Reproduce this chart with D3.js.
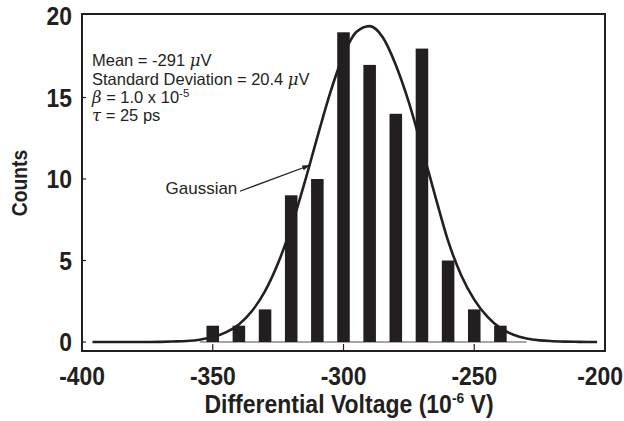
<!DOCTYPE html>
<meta charset="utf-8">
<style>
  body {
    margin: 0;
    background: #fff;
    overflow: hidden;
  }
  text {
    font-family: "Liberation Sans", Arial, sans-serif;
    fill: #231f20;
  }
  .tick-label, .axis-title {
    font-weight: bold;
  }
  .greek {
    font-family: "DejaVu Serif", "Liberation Serif", serif;
    font-style: italic;
  }
</style>
<body>
</body>
<script src="https://cdn.jsdelivr.net/npm/d3@7"></script>
<script>

var width = 624,
    height = 421;

var ink = "#231f20";

// histogram bins (uV) and counts
var bins = [-350, -340, -330, -320, -310, -300, -290, -280, -270, -260, -250, -240];
var counts = [1, 1, 2, 9, 10, 19, 17, 14, 18, 5, 2, 1];

// fitted curve
var fitX = [-396, -390, -385, -380, -375, -370, -365, -360, -355, -350, -345, -340, -335, -330,
            -325, -320, -315, -310, -305, -300, -295, -290, -285, -280, -275, -270, -265, -260,
            -255, -250, -245, -240, -235, -230, -225, -220, -215, -210, -203];
var fitY = [0, 0, 0, 0, 0, 0.01, 0.03, 0.06, 0.14, 0.3, 0.59, 1.08, 1.9, 3.12,
            4.84, 7.06, 9.71, 12.57, 15.33, 17.6, 19.03, 19.38, 18.7, 17.0, 14.7, 11.9, 9.0, 6.2,
            4.1, 2.6, 1.55, 0.85, 0.45, 0.22, 0.1, 0.05, 0.02, 0.01, 0];

var xTicks = [-400, -350, -300, -250, -200];
var yTicks = [0, 5, 10, 15, 20];

var frame = {left: 82, right: 605, top: 14, bottom: 351};

var x = d3.scaleLinear().domain([-400, -200]).range([frame.left, frame.right]);
var y = d3.scaleLinear().domain([0, 20]).range([342, 16]);

var svg = d3.select("body").append("svg")
    .attr("width", width)
    .attr("height", height);

// gray zero line under the bars
svg.append("line")
    .attr("x1", x(-355)).attr("x2", x(-230))
    .attr("y1", y(0)).attr("y2", y(0))
    .style("stroke", "#8a8a8a")
    .style("stroke-width", 1.5);

// bars
svg.append("g").selectAll("rect")
    .data(bins)
  .enter().append("rect")
    .attr("x", (d) => x(d - 2.4))
    .attr("width", x(-395.2) - x(-400))
    .attr("y", (d, i) => y(counts[i]))
    .attr("height", (d, i) => y(0) - y(counts[i]))
    .style("fill", ink);

// gaussian curve
var line = d3.line()
    .curve(d3.curveMonotoneX)
    .x((d) => x(d))
    .y((d, i) => y(fitY[i]));

svg.append("path")
    .datum(fitX)
    .attr("d", line)
    .style("fill", "none")
    .style("stroke", ink)
    .style("stroke-width", 2.6);

// frame
svg.append("rect")
    .attr("x", frame.left)
    .attr("y", frame.top)
    .attr("width", frame.right - frame.left)
    .attr("height", frame.bottom - frame.top)
    .style("fill", "none")
    .style("stroke", ink)
    .style("stroke-width", 2);

// x ticks, pointing inward
var xAxis = svg.append("g");
xAxis.selectAll("line")
    .data(xTicks.slice(1, -1))
  .enter().append("line")
    .attr("x1", (d) => x(d)).attr("x2", (d) => x(d))
    .attr("y1", frame.bottom).attr("y2", frame.bottom - 7)
    .style("stroke", ink)
    .style("stroke-width", 1.2);
xAxis.selectAll("text")
    .data(xTicks)
  .enter().append("text")
    .attr("class", "tick-label")
    .attr("transform", (d, i) => `translate(${x(d) - (i == xTicks.length - 1 ? 5 : 0)},385) scale(0.88,1)`)
    .attr("text-anchor", "middle")
    .style("font-size", "26px")
    .text((d) => d);

// y ticks
var yAxis = svg.append("g");
yAxis.selectAll("line")
    .data(yTicks.slice(0, -1))
  .enter().append("line")
    .attr("x1", frame.left).attr("x2", frame.left + 4)
    .attr("y1", (d) => y(d)).attr("y2", (d) => y(d))
    .style("stroke", ink)
    .style("stroke-width", 1.2);
yAxis.selectAll("text")
    .data(yTicks)
  .enter().append("text")
    .attr("class", "tick-label")
    .attr("transform", (d) => `translate(72,${y(d) + 9}) scale(0.88,1)`)
    .attr("text-anchor", "end")
    .style("font-size", "26px")
    .text((d) => d);

// axis titles
var xTitle = svg.append("text")
    .attr("class", "axis-title")
    .attr("transform", "translate(349,413) scale(0.92,1)")
    .attr("text-anchor", "middle")
    .style("font-size", "25px");
xTitle.append("tspan").text("Differential Voltage (10");
xTitle.append("tspan").attr("dy", -10).style("font-size", "15px").text("-6");
xTitle.append("tspan").attr("dy", 10).text(" V)");

svg.append("text")
    .attr("class", "axis-title")
    .attr("transform", "translate(27,183) rotate(-90) scale(0.92,1.05)")
    .attr("text-anchor", "middle")
    .style("font-size", "21px")
    .text("Counts");

// annotation block
var note = svg.append("g").style("font-size", "16.5px");
var t1 = note.append("text").attr("x", 92).attr("y", 66);
t1.append("tspan").text("Mean = -291 ");
t1.append("tspan").attr("class", "greek").text("\u03bc");
t1.append("tspan").text("V");

var t2 = note.append("text").attr("x", 92).attr("y", 85);
t2.append("tspan").text("Standard Deviation = 20.4 ");
t2.append("tspan").attr("class", "greek").text("\u03bc");
t2.append("tspan").text("V");

var t3 = note.append("text").attr("x", 92).attr("y", 103);
t3.append("tspan").attr("class", "greek").text("\u03b2");
t3.append("tspan").text(" = 1.0 x 10");
t3.append("tspan").attr("dy", -6).style("font-size", "11.5px").text("-5");

var t4 = note.append("text").attr("x", 92).attr("y", 121);
t4.append("tspan").attr("class", "greek").text("\u03c4");
t4.append("tspan").text(" = 25 ps");

// "Gaussian" label with arrow
svg.append("defs").append("marker")
    .attr("id", "head")
    .attr("viewBox", "0 0 10 6")
    .attr("refX", 10).attr("refY", 3)
    .attr("markerWidth", 10).attr("markerHeight", 5)
    .attr("markerUnits", "userSpaceOnUse")
    .attr("orient", "auto")
  .append("path")
    .attr("d", "M0,0L10,3L0,6Z")
    .style("fill", ink);

svg.append("text")
    .attr("x", x(-340.6))
    .attr("y", y(9.1))
    .attr("text-anchor", "end")
    .style("font-size", "17px")
    .text("Gaussian");

svg.append("line")
    .attr("x1", x(-339.6)).attr("y1", y(9.25))
    .attr("x2", x(-312.6)).attr("y2", y(10.86))
    .style("stroke", ink)
    .style("stroke-width", 1.2)
    .attr("marker-end", "url(#head)");

</script>
